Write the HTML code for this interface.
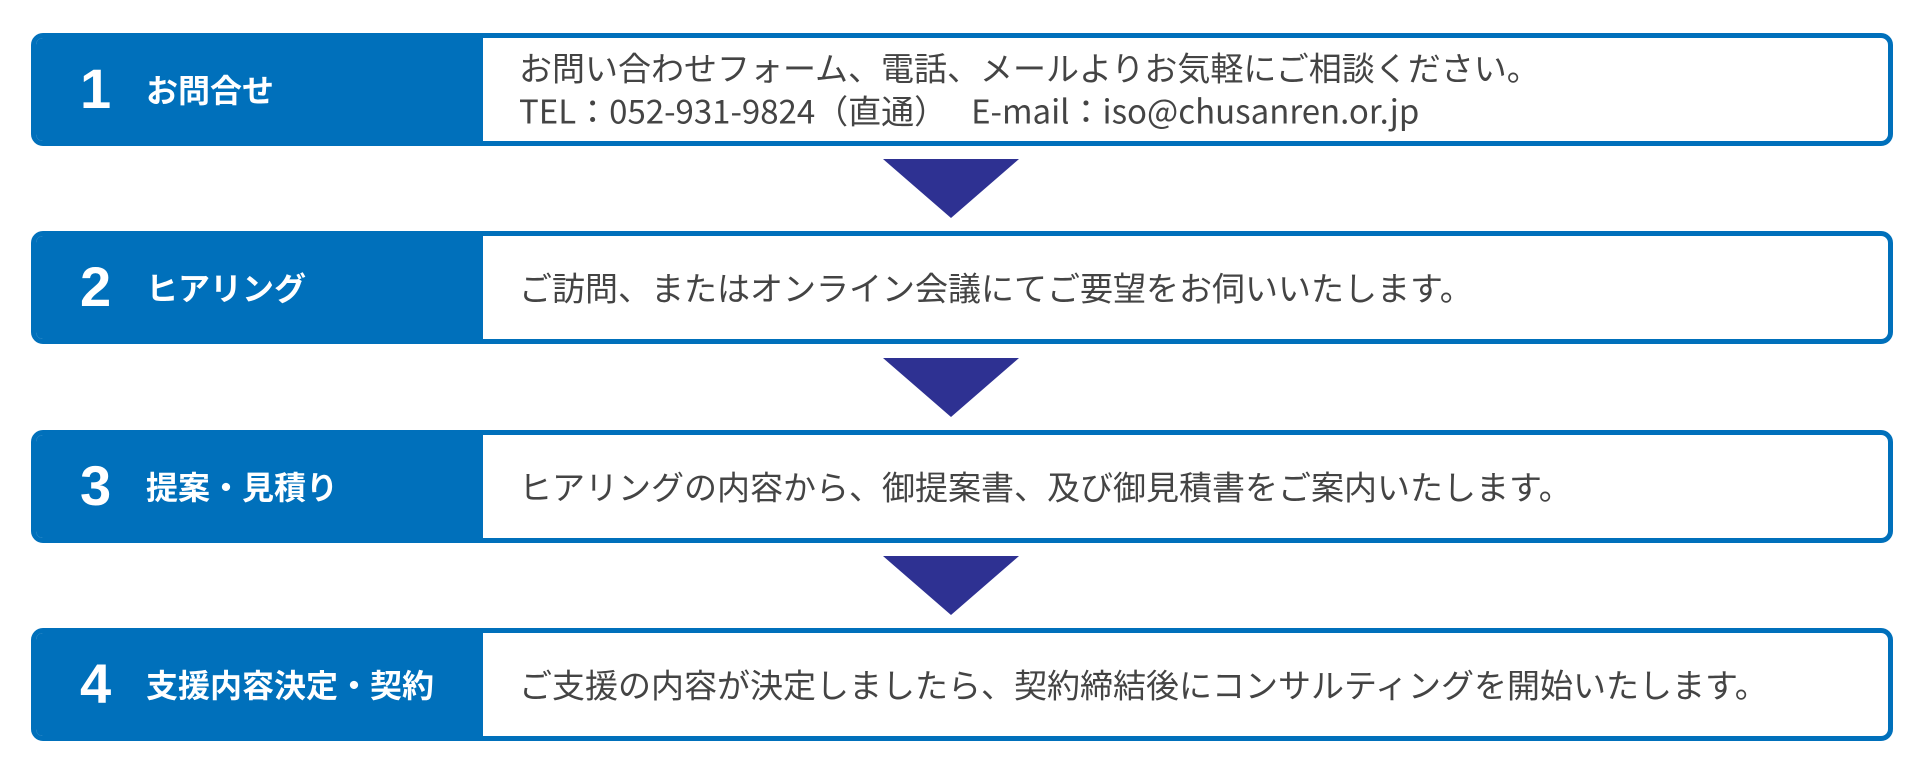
<!DOCTYPE html>
<html><head><meta charset="utf-8"><style>
body{margin:0;width:1920px;height:768px;background:#fff;position:relative;overflow:hidden;font-family:"Liberation Sans","Noto Sans CJK JP",sans-serif}
.box{position:absolute;left:31px;width:1852px;height:103px;border:5px solid #0070bb;border-radius:12px;background:#fff;overflow:hidden}
.left{position:absolute;left:0;top:0;bottom:0;width:447px;background:#0070bb}
.num{position:absolute;left:44px;top:50%;transform:translateY(-52%);color:#fff;font-size:56px;font-weight:bold}
.lab{position:absolute;left:110px;top:50%;transform:translateY(-52%);color:#fff;font-size:32px;font-weight:bold;font-family:"Noto Sans CJK JP",sans-serif}
.txt{position:absolute;left:483px;top:50%;transform:translateY(-52%);color:#444;font-size:33px;line-height:43px;white-space:nowrap;font-family:"Noto Sans CJK JP",sans-serif}
.tri{position:absolute;left:883px;width:0;height:0;border-left:68px solid transparent;border-right:68px solid transparent;border-top:59px solid #2e3192}
</style></head><body>
<div class="box" style="top:33px"><div class="left"><span class="num">1</span><span class="lab">お問合せ</span></div><div class="txt">お問い合わせフォーム、電話、メールよりお気軽にご相談ください。<br>TEL：052-931-9824（直通）　 E-mail：iso@chusanren.or.jp</div></div>
<div class="tri" style="top:159px"></div>
<div class="box" style="top:231px"><div class="left"><span class="num">2</span><span class="lab">ヒアリング</span></div><div class="txt">ご訪問、またはオンライン会議にてご要望をお伺いいたします。</div></div>
<div class="tri" style="top:358px"></div>
<div class="box" style="top:430px"><div class="left"><span class="num">3</span><span class="lab">提案・見積り</span></div><div class="txt">ヒアリングの内容から、御提案書、及び御見積書をご案内いたします。</div></div>
<div class="tri" style="top:556px"></div>
<div class="box" style="top:628px"><div class="left"><span class="num">4</span><span class="lab">支援内容決定・契約</span></div><div class="txt">ご支援の内容が決定しましたら、契約締結後にコンサルティングを開始いたします。</div></div>
</body></html>
